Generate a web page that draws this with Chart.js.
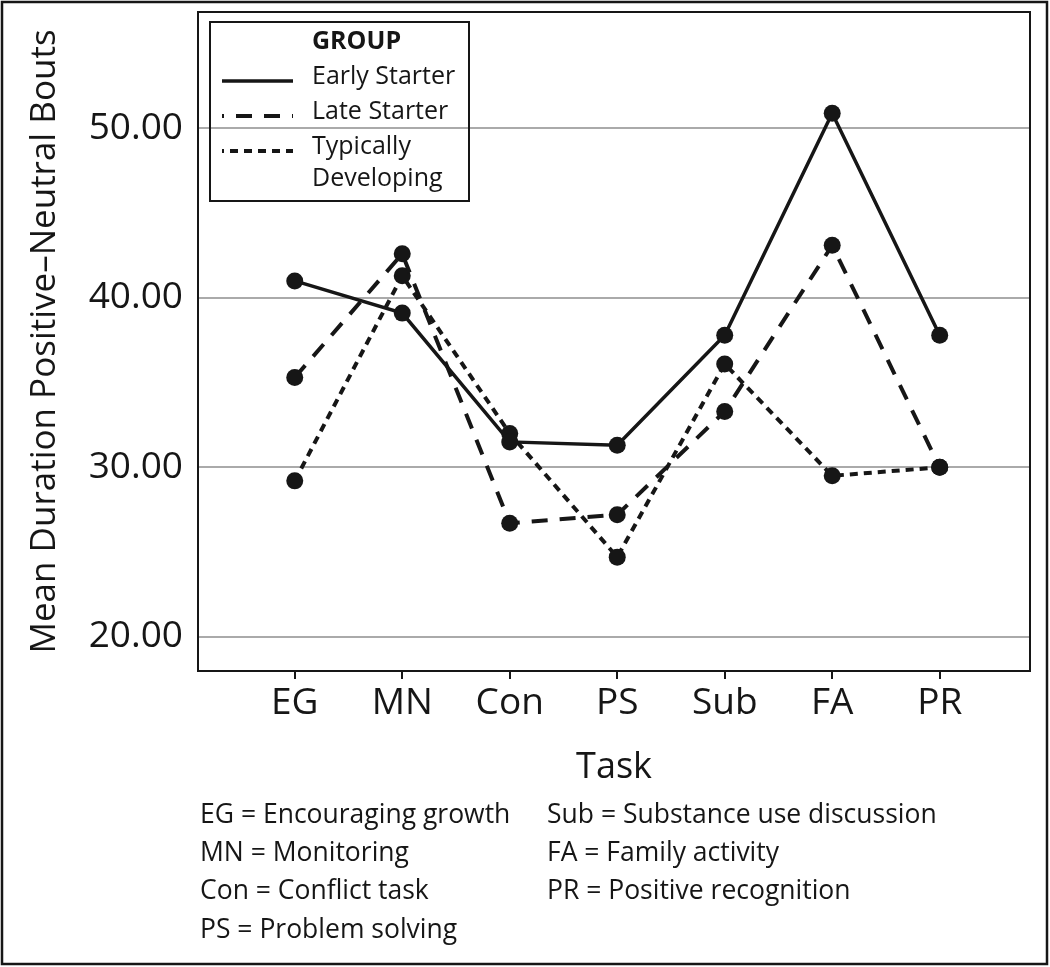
<!DOCTYPE html>
<html>
<head>
<meta charset="utf-8">
<script src="https://cdn.jsdelivr.net/npm/chart.js@4"></script>
<style>
  body { margin: 0; background: #fff; }
  #wrap { width: 1050px; height: 967px; }
</style>
</head>
<body>
<div id="wrap"><canvas id="myChart" width="1050" height="967"></canvas></div>
<script>
// data
const tasks = ['EG', 'MN', 'Con', 'PS', 'Sub', 'FA', 'PR'];
const taskNames = ['Encouraging growth', 'Monitoring', 'Conflict task', 'Problem solving',
                   'Substance use discussion', 'Family activity', 'Positive recognition'];
const groups = ['Early Starter', 'Late Starter', 'Typically Developing'];
const earlyStarter = [41.0, 39.1, 31.5, 31.3, 37.8, 50.9, 37.8];
const lateStarter = [35.3, 42.6, 26.7, 27.2, 33.3, 43.1, 30.0];
const typicallyDeveloping = [29.2, 41.3, 32.0, 24.7, 36.1, 29.5, 30.0];
const yTicks = [20, 30, 40, 50];

const FONT = '"Open Sans", "Noto Sans", sans-serif';
const INK = '#161616';

function toPoints(values) {
    return values.map((v, i) => ({ x: i, y: v }));
}

const dashes = [[], [16, 12], [8, 6]];
const seriesValues = [earlyStarter, lateStarter, typicallyDeveloping];

// frame, plot box, legend and footnote
const decorPlugin = {
    id: 'decor',
    afterDraw(chart) {
        const ctx = chart.ctx;
        const a = chart.chartArea;
        ctx.save();
        ctx.strokeStyle = INK;
        ctx.lineWidth = 2;
        ctx.setLineDash([]);
        ctx.strokeRect(a.left, a.top, a.right - a.left, a.bottom - a.top);
        ctx.lineWidth = 2.5;
        ctx.strokeRect(2, 2, 1045, 962);

        // legend
        const lx = 210, ly = 22, lw = 259, lh = 179;
        ctx.lineWidth = 2;
        ctx.strokeRect(lx, ly, lw, lh);
        ctx.fillStyle = INK;
        ctx.textBaseline = 'middle';
        ctx.textAlign = 'left';
        ctx.font = 'bold 25px ' + FONT;
        ctx.fillText('GROUP', 312, 42);
        ctx.font = '25px ' + FONT;
        let rowY = 77;
        chart.data.datasets.forEach((ds) => {
            ctx.save();
            ctx.lineWidth = ds.borderWidth;
            ctx.strokeStyle = ds.borderColor;
            ctx.setLineDash(ds.borderDash || []);
            ctx.lineDashOffset = ds.borderDash && ds.borderDash.length ? ds.borderDash[0] - 2 : 0;
            ctx.beginPath();
            ctx.moveTo(222, rowY + 4);
            ctx.lineTo(293, rowY + 4);
            ctx.stroke();
            ctx.restore();
            // simple word wrap
            const words = ds.label.split(' ');
            const lines = [];
            let cur = '';
            words.forEach((w) => {
                const t = cur ? cur + ' ' + w : w;
                if (ctx.measureText(t).width > 170 && cur) { lines.push(cur); cur = w; } else { cur = t; }
            });
            lines.push(cur);
            lines.forEach((l, i) => ctx.fillText(l, 312, rowY + i * 32));
            rowY += 35 + (lines.length - 1) * 32;
        });

        // footnote with task abbreviations
        ctx.font = '26.5px ' + FONT;
        const rows = [815, 853, 891, 930];
        tasks.forEach((t, i) => {
            const col = i < 4 ? 0 : 1;
            const row = i < 4 ? i : i - 4;
            ctx.fillText(t + ' = ' + taskNames[i], col ? 547 : 200, rows[row]);
        });
        ctx.restore();
    }
};

const ctx = document.getElementById('myChart');

const chart1 = new Chart(ctx, {
    type: 'line',
    data: {
        datasets: groups.map((g, i) => ({
            label: g,
            data: toPoints(seriesValues[i]),
            borderColor: INK,
            backgroundColor: INK,
            borderWidth: i === 0 ? 3.5 : 4,
            borderDash: dashes[i],
            pointRadius: 8.5,
            pointHoverRadius: 8.5,
            pointBackgroundColor: INK,
            pointBorderWidth: 0,
            tension: 0,
            fill: false,
        })),
    },
    options: {
        responsive: false,
        animation: false,
        events: [],
        layout: { padding: { left: 0, top: 12, right: 20, bottom: 0 } },
        plugins: {
            legend: { display: false },
            tooltip: { enabled: false },
        },
        scales: {
            x: {
                type: 'linear',
                min: -0.9,
                max: 6.84,
                afterBuildTicks: (s) => { s.ticks = tasks.map((t, i) => ({ value: i })); },
                afterFit: (s) => { s.height = 296; s.paddingLeft = 0; s.paddingRight = 0; },
                ticks: {
                    callback: (v) => tasks[v],
                    color: INK,
                    padding: 2,
                    font: { family: FONT, size: 37 },
                },
                grid: {
                    drawOnChartArea: false,
                    drawTicks: true,
                    tickLength: 8,
                    color: INK,
                    lineWidth: 2,
                },
                border: { display: false },
                title: {
                    display: true,
                    text: 'Task',
                    color: INK,
                    padding: { top: 0, bottom: 178 },
                    font: { family: FONT, size: 36 },
                },
            },
            y: {
                min: 17.98,
                max: 56.87,
                afterBuildTicks: (s) => { s.ticks = yTicks.map((v) => ({ value: v })); },
                afterFit: (s) => { s.width = 198; s.paddingTop = 0; s.paddingBottom = 0; },
                ticks: {
                    callback: (v) => v.toFixed(2),
                    color: INK,
                    padding: 15,
                    font: { family: FONT, size: 37 },
                },
                grid: {
                    color: '#aaaaaa',
                    lineWidth: 2,
                    drawTicks: false,
                },
                border: { display: false },
                title: {
                    display: true,
                    text: 'Mean Duration Positive\u2013Neutral Bouts',
                    color: INK,
                    padding: { top: 24, bottom: 0 },
                    font: { family: FONT, size: 35 },
                },
            },
        },
    },
    plugins: [decorPlugin],
});
</script>
</body>
</html>
